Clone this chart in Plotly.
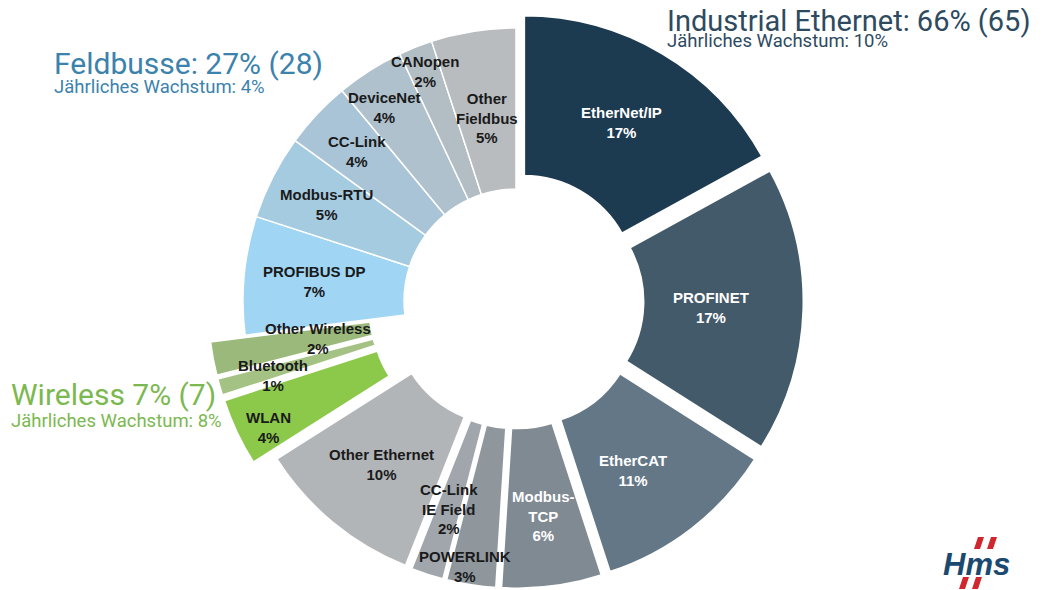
import math
import plotly.graph_objects as go

# slices, clockwise from 12 o'clock
labels = ["EtherNet/IP", "PROFINET", "EtherCAT", "Modbus-<br>TCP", "POWERLINK",
          "CC-Link<br>IE Field", "Other Ethernet",
          "WLAN", "Bluetooth", "Other Wireless",
          "PROFIBUS DP", "Modbus-RTU", "CC-Link", "DeviceNet", "CANopen", "Other<br>Fieldbus"]
shares = [17, 17, 11, 6, 3, 2, 10, 4, 1, 2, 7, 5, 4, 4, 2, 5]
groups = ["eth"] * 7 + ["wl"] * 3 + ["fb"] * 6

# group headers
group_keys = ["eth", "fb", "wl"]
group_names = ["Industrial Ethernet", "Feldbusse", "Wireless"]
prev_year = [65, 28, 7]
growth = [10, 4, 8]

colors = ["#1c3a50", "#435a6a", "#637787", "#7f8a93", "#8f979d", "#a0a6ab", "#b2b5b8",
          "#8cc94b", "#a4c284", "#9ab97a",
          "#a0d6f4", "#a5cbe1", "#a9c4d6", "#afc1cd", "#b3bdc4", "#b8bcbf"]

# page is shifted by the 8px body margin, so the figure is drawn 8px smaller
W, H, OFF = 1050, 590, 8
FW, FH = W - OFF, H - OFF
CX, CY, R = 516, 301, 273
HOLE = 0.41
explode = {"eth": 0.055, "wl": 0.13, "fb": 0.0}
line_w = {"eth": 3, "wl": 2, "fb": 1.5}
# label radius (fraction of outer radius) and angle nudge in degrees
label_r = [0.705, 0.66, 0.70, 0.74, 0.935, 0.745, 0.72, 0.89, 0.80, 0.61,
           0.74, 0.78, 0.80, 0.855, 0.905, 0.68]
label_da = [0, 0, 3.5, 0, 2, 0, 0, -2.2, -0.9, 0, 0, 0, 0, -1.8, 0, 0]


def px(x):
    return (x - OFF) / FW


def py(y):
    return 1 - (y - OFF) / FH


total = sum(shares)
fig = go.Figure()
annotations = []
start = 0
for i, v in enumerate(shares):
    mid = math.radians((start + v / 2) / total * 360)
    start += v
    d = explode[groups[i]] * R
    cx = CX + d * math.sin(mid)
    cy = CY - d * math.cos(mid)
    dom_x = [max(0, px(cx - R)), min(1, px(cx + R))]
    dom_y = [max(0, py(cy + R)), min(1, py(cy - R))]
    fig.add_trace(go.Pie(
        values=shares, labels=labels, sort=False, direction="clockwise", rotation=0,
        hole=HOLE, domain=dict(x=dom_x, y=dom_y), textinfo="none", showlegend=False,
        hoverinfo="label+percent",
        marker=dict(colors=[colors[j] if j == i else "rgba(0,0,0,0)" for j in range(len(shares))],
                    line=dict(color="white",
                              width=[line_w[groups[i]] if j == i else 0 for j in range(len(shares))])),
    ))
    la = mid + math.radians(label_da[i])
    lx = cx + label_r[i] * R * math.sin(la)
    ly = cy - label_r[i] * R * math.cos(la)
    annotations.append(dict(
        x=px(lx), y=py(ly), xref="paper", yref="paper", showarrow=False,
        xanchor="center", yanchor="middle",
        text=f"<b>{labels[i]}<br>{v}%</b>", align="center",
        font=dict(family="Liberation Sans, Arial", size=15,
                  color="white" if i < 4 else "#1a1a1a"),
    ))

# group headers: left x, title baseline, subtitle baseline, title size, colour
header_pos = {"eth": (665, 31, 47, 29, "#2e4a5f"), "fb": (52, 74, 94, 30, "#3b82ad"),
              "wl": (9, 405, 427, 30, "#7cb850")}
for k, name, prev, g in zip(group_keys, group_names, prev_year, growth):
    share = sum(v for v, gg in zip(shares, groups) if gg == k)
    sep = ":" if k != "wl" else ""
    x0, yb1, yb2, fs, col = header_pos[k]
    annotations.append(dict(x=px(x0), y=py(yb1 - 0.35 * fs), xref="paper", yref="paper", showarrow=False,
                            xanchor="left", yanchor="middle", text=f"{name}{sep} {share}% ({prev})",
                            font=dict(family="Roboto", size=fs, color=col)))
    annotations.append(dict(x=px(x0), y=py(yb2 - 6.5), xref="paper", yref="paper", showarrow=False,
                            xanchor="left", yanchor="middle", text=f"Jährliches Wachstum: {g}%",
                            font=dict(family="Roboto", size=18.5, color=col)))

# HMS logo
annotations.append(dict(x=px(976), y=py(564), xref="paper", yref="paper", showarrow=False,
                        xanchor="center", yanchor="middle",
                        text="<b><i>Hms</i></b>", font=dict(family="Liberation Sans", size=31, color="#1b4a70")))
shapes = []
for (x0, y0) in [(974, 537), (987, 537), (959, 577), (972, 577)]:
    pts = [(x0 + 4, y0), (x0 + 10, y0), (x0 + 6, y0 + 12), (x0, y0 + 12)]
    path = "M " + " L ".join(f"{px(a)},{py(b)}" for a, b in pts) + " Z"
    shapes.append(dict(type="path", xref="paper", yref="paper", path=path,
                       fillcolor="#d0262e", line=dict(width=0)))

fig.update_layout(width=FW, height=FH, margin=dict(l=0, r=0, t=0, b=0),
                  paper_bgcolor="white", plot_bgcolor="white",
                  annotations=annotations, shapes=shapes)
fig.write_html("out.html")
